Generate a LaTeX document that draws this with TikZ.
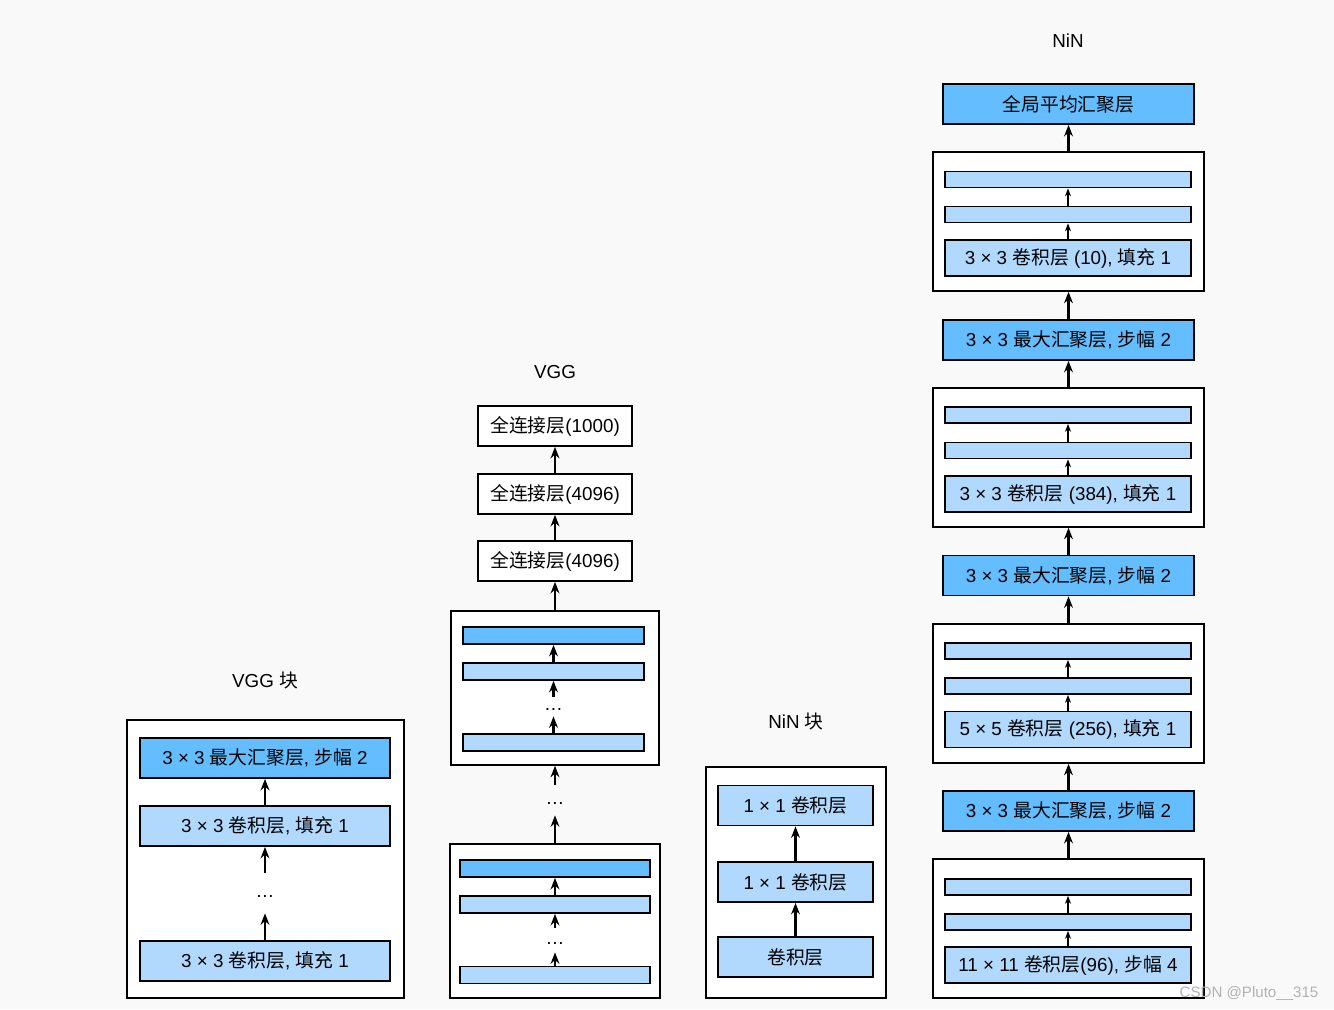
\documentclass[tikz,border=0pt]{standalone}
\usepackage{fontspec}
\setmainfont{Liberation Sans}
\newfontfamily\cjk{Noto Sans CJK SC}
\usetikzlibrary{arrows.meta}
\definecolor{poolblue}{HTML}{63BDFE}
\definecolor{convblue}{HTML}{B1D9FE}
\definecolor{bggray}{HTML}{F9F9F9}
\tikzset{
  box/.style={draw=black, line width=1pt, minimum width=5cm, minimum height=0.8cm, inner sep=0pt, font=\fontsize{10.7}{12}\selectfont},
  pool/.style={box, fill=poolblue},
  conv/.style={box, fill=convblue},
  fc/.style={box, fill=white, minimum width=3.08cm},
  bar/.style={box, fill=convblue, minimum height=0.32cm},
  blockframe/.style={draw=black, line width=0.9pt, fill=white, inner sep=0pt},
  arr/.style={-{Stealth[length=6.5pt,width=5pt]}, line width=1.4pt},
  thinarr/.style={-{Stealth[length=4.5pt,width=3.4pt]}, line width=0.85pt},
  title/.style={font=\fontsize{10.7}{12}\selectfont},
  ellip/.style={inner sep=0pt, minimum height=#1, text height=5pt, text depth=0pt, font=\fontsize{10.7}{12}\selectfont}
}
\begin{document}
\begin{tikzpicture}[x=0.02cm, y=-0.02cm]
\fill[bggray] (0,0) rectangle (1334,1009);

% VGG block
\node[title] (vggblktitle) at (265,680) {VGG {\cjk 块}};
\node[blockframe, minimum width=5.54cm, minimum height=5.56cm] (vggblk) at (265.5,859) {};
\node[pool] (vggpool) at (265,758) {3 × 3 {\cjk 最大汇聚层}, {\cjk 步幅} 2};
\node[conv] (vggconvb) at (265,826) {3 × 3 {\cjk 卷积层}, {\cjk 填充} 1};
\node[ellip=0.8cm] (vggdots) at (265,893) {\ldots};
\node[conv] (vggconva) at (265,961) {3 × 3 {\cjk 卷积层}, {\cjk 填充} 1};
\draw[arr] (vggconvb) -- (vggpool);
\draw[arr] (vggdots) -- (vggconvb);
\draw[arr] (vggconva) -- (vggdots);

% VGG
\node[title] (vggtitle) at (555,372) {VGG};
\node[fc] (fcc) at (555,426) {{\cjk 全连接层}(1000)};
\node[fc] (fcb) at (555,494) {{\cjk 全连接层}(4096)};
\node[fc] (fca) at (555,561) {{\cjk 全连接层}(4096)};
\node[blockframe, minimum width=4.16cm, minimum height=3.08cm] (vggtop) at (555,688) {};
\node[bar, minimum width=3.62cm, minimum height=0.34cm, fill=poolblue] (toppool) at (553.5,635.5) {};
\node[bar, minimum width=3.62cm, minimum height=0.34cm] (topconvb) at (553.5,671.5) {};
\node[ellip=0.38cm] (topdots) at (553.5,706.5) {\ldots};
\node[bar, minimum width=3.62cm, minimum height=0.34cm] (topconva) at (553.5,742.5) {};
\node[ellip=0.6cm] (middots) at (555,800) {\ldots};
\node[blockframe, minimum width=4.2cm, minimum height=3.08cm] (vggbot) at (555,921) {};
\node[bar, minimum width=3.8cm, minimum height=0.34cm, fill=poolblue] (botpool) at (555,868.5) {};
\node[bar, minimum width=3.8cm, minimum height=0.34cm] (botconvb) at (555,904.5) {};
\node[ellip=0.48cm] (botdots) at (555,940) {\ldots};
\node[bar, minimum width=3.8cm, minimum height=0.34cm] (botconva) at (555,975) {};
\draw[arr] (fcb) -- (fcc);
\draw[arr] (fca) -- (fcb);
\draw[arr] (vggtop) -- (fca);
\draw[arr] (topconvb) -- (toppool);
\draw[arr] (topdots) -- (topconvb);
\draw[arr] (topconva) -- (topdots);
\draw[arr] (middots) -- (vggtop);
\draw[arr] (vggbot) -- (middots);
\draw[arr] (botconvb) -- (botpool);
\draw[arr] (botdots) -- (botconvb);
\draw[arr] (botconva) -- (botdots);

% NiN block
\node[title] (ninblktitle) at (796,721) {NiN {\cjk 块}};
\node[blockframe, minimum width=3.6cm, minimum height=4.62cm] (ninblk) at (796,882.5) {};
\node[conv, minimum width=3.1cm] (ninconvc) at (795.5,805.5) {1 × 1 {\cjk 卷积层}};
\node[conv, minimum width=3.1cm] (ninconvb) at (795.5,882) {1 × 1 {\cjk 卷积层}};
\node[conv, minimum width=3.1cm] (ninconva) at (795.5,957) {{\cjk 卷积层}};
\draw[arr] (ninconvb) -- (ninconvc);
\draw[arr] (ninconva) -- (ninconvb);

% NiN
\node[title] (nintitle) at (1068,41) {NiN};
\node[pool, minimum width=5.02cm] (gap) at (1068.5,104) {{\cjk 全局平均汇聚层}};
\node[blockframe, minimum width=5.42cm, minimum height=2.78cm] (blkd) at (1068.5,221.5) {};
\node[bar, minimum width=4.92cm] (blkdc) at (1068,179.5) {};
\node[bar, minimum width=4.92cm] (blkdb) at (1068,214.5) {};
\node[conv, minimum width=4.92cm, minimum height=0.72cm] (blkda) at (1068,258) {3 × 3 {\cjk 卷积层} (10), {\cjk 填充} 1};
\node[pool, minimum width=5.02cm] (poolc) at (1068.5,340) {3 × 3 {\cjk 最大汇聚层}, {\cjk 步幅} 2};
\node[blockframe, minimum width=5.42cm, minimum height=2.78cm] (blkc) at (1068.5,457.5) {};
\node[bar, minimum width=4.92cm] (blkcc) at (1068,415) {};
\node[bar, minimum width=4.92cm] (blkcb) at (1068,450.5) {};
\node[conv, minimum width=4.92cm, minimum height=0.72cm] (blkca) at (1068,494) {3 × 3 {\cjk 卷积层} (384), {\cjk 填充} 1};
\node[pool, minimum width=5.02cm] (poolb) at (1068.5,575.5) {3 × 3 {\cjk 最大汇聚层}, {\cjk 步幅} 2};
\node[blockframe, minimum width=5.42cm, minimum height=2.78cm] (blkb) at (1068.5,693.5) {};
\node[bar, minimum width=4.92cm] (blkbc) at (1068,651) {};
\node[bar, minimum width=4.92cm] (blkbb) at (1068,686) {};
\node[conv, minimum width=4.92cm, minimum height=0.72cm] (blkba) at (1068,729.5) {5 × 5 {\cjk 卷积层} (256), {\cjk 填充} 1};
\node[pool, minimum width=5.02cm] (poola) at (1068.5,811) {3 × 3 {\cjk 最大汇聚层}, {\cjk 步幅} 2};
\node[blockframe, minimum width=5.42cm, minimum height=2.78cm] (blka) at (1068.5,928.5) {};
\node[bar, minimum width=4.92cm] (blkac) at (1068,887) {};
\node[bar, minimum width=4.92cm] (blkab) at (1068,922) {};
\node[conv, minimum width=4.92cm, minimum height=0.72cm] (blkaa) at (1068,965) {11 × 11 {\cjk 卷积层}(96), {\cjk 步幅} 4};
\draw[arr] (blkd) -- (gap);
\draw[thinarr] (blkdb) -- (blkdc);
\draw[thinarr] (blkda) -- (blkdb);
\draw[arr] (poolc) -- (blkd);
\draw[arr] (blkc) -- (poolc);
\draw[thinarr] (blkcb) -- (blkcc);
\draw[thinarr] (blkca) -- (blkcb);
\draw[arr] (poolb) -- (blkc);
\draw[arr] (blkb) -- (poolb);
\draw[thinarr] (blkbb) -- (blkbc);
\draw[thinarr] (blkba) -- (blkbb);
\draw[arr] (poola) -- (blkb);
\draw[arr] (blka) -- (poola);
\draw[thinarr] (blkab) -- (blkac);
\draw[thinarr] (blkaa) -- (blkab);

\node[text=gray!60, font=\fontsize{8.6}{10}\selectfont] (mark) at (1249,993) {CSDN @Pluto\_\_315};
\end{tikzpicture}
\end{document}
